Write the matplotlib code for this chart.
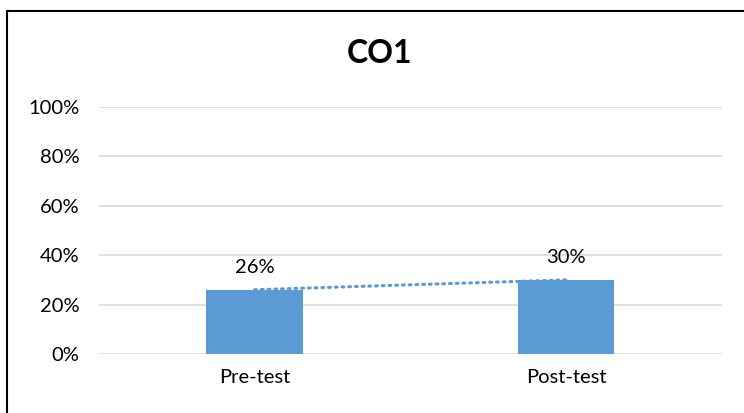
import matplotlib.pyplot as plt
from matplotlib.patches import Rectangle
from matplotlib.ticker import PercentFormatter

categories = ['Pre-test', 'Post-test']
values = [0.26, 0.30]
labels = ['26%', '30%']
yticks = [0, 0.2, 0.4, 0.6, 0.8, 1.0]

plt.rcParams['font.family'] = ['Lato', 'DejaVu Sans']

fig = plt.figure(figsize=(7.44, 4.13), dpi=100)
ax = fig.add_axes([0.133, 0.143, 0.837, 0.598])

x = list(range(len(categories)))
ax.bar(x, values, width=0.31, color='#5B9BD5', zorder=3)

# linear trend line (two points, so it passes through both bar tops)
ax.plot(x, values, linestyle=(0, (0.6, 1.6)), color='#5B9BD5', linewidth=2.2,
        dash_capstyle='round', zorder=4)

for xi, v, lab in zip(x, values, labels):
    ax.annotate(lab, (xi, v), xytext=(0, 10), textcoords='offset points',
                ha='center', va='bottom', fontsize=14.5, color='#000000')

ax.set_xlim(-0.5, 1.5)
ax.set_ylim(0, 1.0)
ax.set_yticks(yticks)
ax.yaxis.set_major_formatter(PercentFormatter(1.0, decimals=0))
ax.set_xticks(x)
ax.set_xticklabels(categories)
ax.grid(axis='y', color='#D9D9D9', linewidth=1.2, zorder=0)
ax.set_axisbelow(True)
for s in ax.spines.values():
    s.set_visible(False)
ax.tick_params(axis='both', length=0, labelsize=14.5, colors='#000000')
ax.tick_params(axis='y', pad=14)
ax.tick_params(axis='x', pad=11)

fig.text(0.51, 0.87, 'CO1', ha='center', va='center', fontsize=23,
         fontweight='bold')

# chart border (right and bottom run off the image)
fig.patches.append(Rectangle((7 / 744, -0.05), 1.0, 1 - 11 / 413 + 0.05,
                             transform=fig.transFigure, fill=False,
                             edgecolor='#000000', linewidth=1.5))

fig.savefig('out.png', dpi=100)
